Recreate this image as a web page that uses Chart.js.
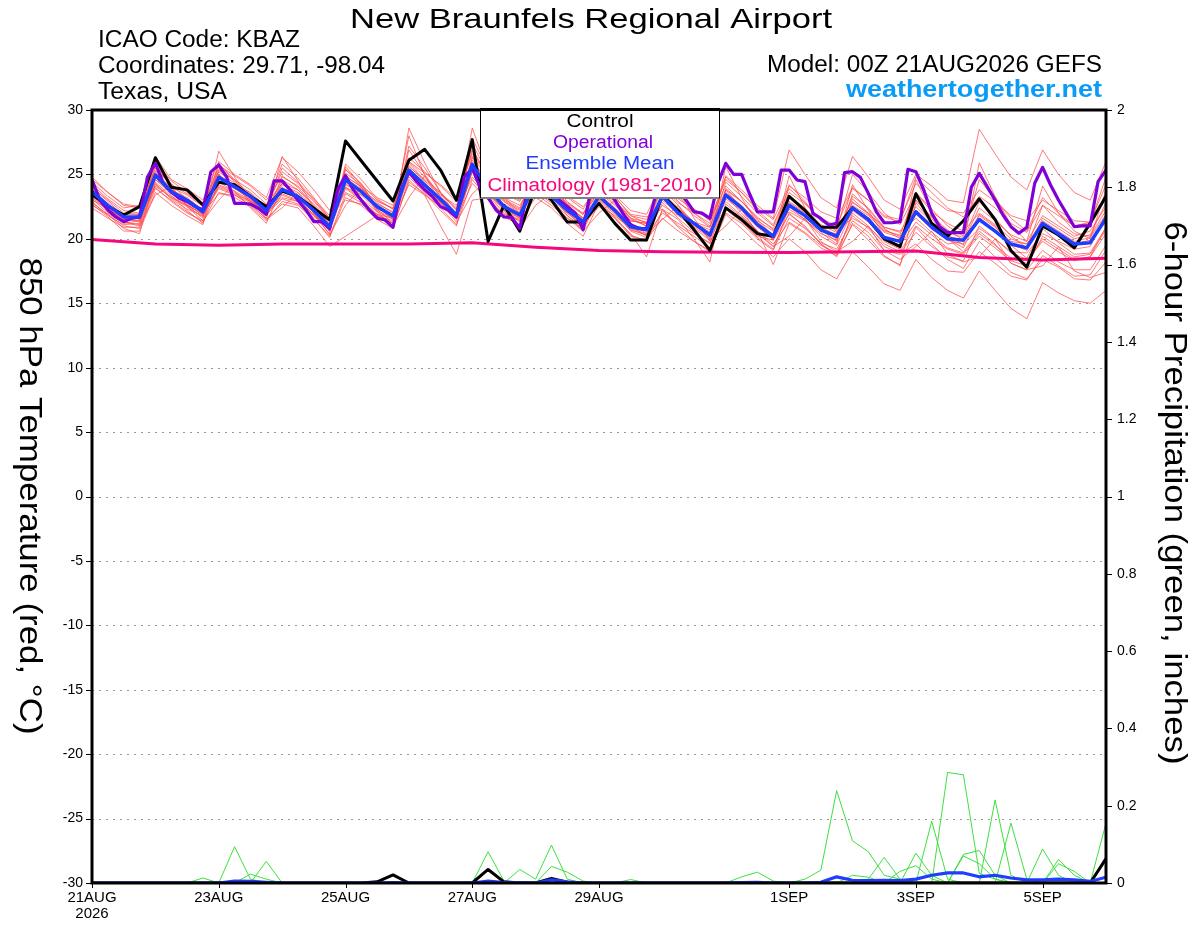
<!DOCTYPE html>
<html><head><meta charset="utf-8">
<script src="https://cdn.jsdelivr.net/npm/chart.js@4.4.1/dist/chart.umd.min.js"></script>
<style>html,body{margin:0;padding:0;background:#fff;}#wrap{width:1200px;height:927px;}</style>
</head><body><div id="wrap"><canvas id="c" width="1200" height="927"></canvas></div>
<script>
// ---------- tick labels ----------
const xTickHours = [0, 48, 96, 144, 192, 264, 312, 360];
const xTickLabels = [["21AUG", "2026"], "23AUG", "25AUG", "27AUG", "29AUG", "1SEP", "3SEP", "5SEP"];
const tempTicks = [-30,-25,-20,-15,-10,-5,0,5,10,15,20,25,30];
const precipTicks = [0,0.2,0.4,0.6,0.8,1,1.2,1.4,1.6,1.8,2];

// ---------- 850 hPa temperature (6-hourly, C) ----------
const controlTemp = [23.45,22.55,21.85,22.5, 26.3,24.0,23.8,22.63, 24.4,24.2,23.3,22.5, 23.7,23.27,22.37,21.46, 27.6,26.04,24.49,22.94, 26.1,26.95,25.34,23.0, 27.7,19.8,22.6,20.6, 24.0,23.0,21.3,21.3, 22.75,21.2,19.9,19.9, 23.4,22.2,20.7,19.1, 22.4,21.5,20.4,20.2, 23.3,22.2,20.9,20.9, 22.4,21.5,20.0,19.4, 23.5,21.2,20.2,21.4, 23.1,21.5,19.1,17.8, 21.0,20.3,19.3,21.2, 23.3];
const meanTemp = [23.66,22.6,21.7,21.7, 24.95,23.66,23.0,22.1, 24.77,24.05,23.3,22.2, 23.84,23.27,22.2,20.94, 24.57,23.66,22.5,21.77, 25.34,24.18,23.07,21.85, 25.78,23.9,22.5,21.85, 24.3,23.3,22.24,21.33, 23.3,22.2,20.94,20.7, 23.3,22.0,21.2,20.3, 23.4,22.4,21.1,20.2, 22.6,21.8,20.7,20.2, 22.4,21.5,20.1,19.8, 22.1,20.9,20.0,19.9, 21.5,20.6,19.6,19.3, 21.2,20.4,19.6,19.7, 21.6];
// operational run, 3-hourly
const operationalTemp = [24.57,23.0,22.24,21.7,21.33,21.6,21.7,24.8, 25.86,24.3,23.66,23.14,22.9,22.5,22.24,25.2, 25.73,24.8,22.76,22.76,22.7,22.37,21.9,24.5, 24.5,23.8,23.0,22.24,21.33,21.33,20.8,23.8, 24.9,23.8,23.0,22.24,21.6,21.46,20.9,23.8, 25.2,24.44,23.8,23.27,22.5,22.24,21.7,24.8, 25.47,24.0,23.2,22.24,21.7,21.66,20.8,23.8, 24.8,24.2,23.6,23.0,22.5,22.0,20.7,23.9, 24.8,24.0,23.0,22.0,21.1,20.8,20.8,23.0, 24.9,24.3,23.7,23.0,22.1,22.0,21.6,24.3, 25.86,25.0,25.0,23.5,22.1,22.1,22.1,25.34, 25.34,24.57,24.44,21.98,21.59,21.07,21.2,25.14, 25.21,24.77,23.53,22.11,21.25,21.25,21.33,25.4, 25.21,23.79,21.98,20.94,20.5,20.48,20.48,24.0, 25.08,24.05,23.01,21.85,20.94,20.43,20.89,24.31, 25.55,24.18,23.01,21.98,20.94,21.0,21.0,24.44, 25.34];
// climatology 1981-2010, daily
const climatologyTemp = [19.95,19.6,19.5,19.6,19.6,19.6,19.7,19.35,19.1,19.0,18.95,18.93,19.0,19.05,18.56,18.36,18.5];

// ensemble members (6-hourly)
const member01 = [24.2,23.1,22.2,22.0, 25.5,24.2,23.5,22.6, 25.3,24.6,23.8,22.7, 24.3,23.8,22.7,21.4, 25.1,24.2,23.0,22.3, 26.3,25.2,24.1,22.9, 26.8,24.9,23.5,22.9, 25.3,24.3,23.2,22.3, 24.3,23.2,21.9,21.7, 22.3,21.0,20.2,19.3, 22.4,21.4,20.1,19.2, 21.6,20.8,19.7,19.2, 21.4,20.5,19.1,18.8, 19.6,18.4,17.5,17.4, 19.0,18.1,17.1,16.8, 18.7,17.9,17.1,17.2, 19.1];
const member02 = [22.8,21.9,21.0,20.8, 23.9,23.0,22.1,21.3, 23.6,23.2,22.5,21.4, 22.9,22.6,21.5,20.2, 23.5,22.8,21.7,21.0, 24.4,23.5,22.2,21.0, 24.6,23.1,21.7,21.1, 23.5,22.6,21.6,20.8, 23.8,22.9,21.8,21.5, 24.2,23.1,22.3,21.5, 24.6,23.6,22.4,21.5, 24.1,23.2,22.1,21.6, 24.0,23.0,21.8,21.5, 24.3,23.1,22.2,22.0, 23.8,22.9,21.8,21.4, 23.0,22.2,21.4,21.3, 23.4];
const member03 = [23.9,22.5,21.3,21.1, 25.8,24.0,22.6,21.6, 26.8,24.8,23.1,21.8, 26.4,24.5,22.4,20.6, 25.4,24.3,22.3,21.2, 28.6,25.9,23.6,21.8, 28.6,25.2,22.4,21.3, 26.5,24.2,22.1,20.8, 25.6,23.1,21.0,20.2, 26.9,23.8,21.6,19.8, 25.6,23.2,21.2,19.9, 24.9,22.4,20.5,19.6, 24.2,22.2,20.2,19.4, 24.6,22.1,20.3,19.5, 25.9,23.3,21.1,19.8, 24.1,22.0,20.6,20.0, 23.8];
const member04 = [23.0,22.4,21.3,21.0, 23.4,24.1,22.5,21.4, 23.0,24.3,22.8,21.5, 22.4,23.6,22.0,20.3, 22.6,24.0,22.1,21.0, 23.2,24.9,22.8,21.3, 23.5,24.6,22.2,20.8, 22.6,23.6,21.8,20.6, 22.0,23.0,21.2,20.4, 21.5,22.6,20.8,19.9, 21.0,22.3,20.4,19.4, 20.2,21.6,19.8,19.0, 19.8,21.0,19.1,18.4, 19.4,20.6,18.8,18.2, 18.6,20.0,18.1,17.6, 17.9,19.4,17.5,17.0, 17.4];
const member05 = [22.4,21.6,20.9,20.9, 24.3,23.1,22.3,21.8, 24.1,23.6,22.9,21.9, 23.1,22.7,21.8,20.7, 24.0,23.1,22.1,21.5, 25.9,24.5,23.4,22.6, 25.9,24.1,22.9,22.0, 24.0,23.0,22.0,21.1, 22.5,21.6,20.4,18.6, 22.3,21.5,20.0,18.2, 23.9,22.9,21.6,20.8, 23.2,22.4,21.1,20.5, 23.1,22.0,20.7,20.2, 21.9,20.8,19.9,19.6, 20.8,20.0,19.0,18.9, 20.4,19.8,19.2,19.4, 21.9];
const member06 = [24.6,23.6,22.6,22.4, 25.1,24.0,23.4,22.5, 25.7,24.9,24.1,23.0, 24.8,24.1,22.9,21.5, 24.0,23.4,22.7,22.1, 25.0,24.0,22.9,21.8, 26.4,24.7,23.2,22.6, 24.7,23.8,22.8,22.0, 23.6,22.6,21.4,21.2, 23.0,21.9,21.0,20.3, 23.8,22.9,21.7,20.7, 22.1,21.4,20.6,20.4, 22.8,22.0,20.9,20.5, 21.6,20.5,19.6,19.8, 22.4,21.4,20.3,19.8, 21.8,21.0,20.2,20.6, 22.5];
const member07 = [23.3,22.3,21.5,21.4, 24.6,23.5,22.7,21.8, 24.2,23.7,23.0,21.9, 23.5,23.0,21.9,20.8, 24.9,24.0,22.8,22.0, 25.0,23.9,22.8,21.5, 25.2,23.5,22.2,21.6, 23.9,22.9,21.8,20.9, 22.9,21.7,20.3,19.8, 22.2,20.9,19.8,19.0, 21.9,20.8,19.6,18.6, 20.0,19.0,17.6,16.9, 19.0,17.8,16.5,16.0, 18.4,17.0,16.0,15.4, 17.5,16.0,14.6,13.8, 16.6,15.8,15.2,15.0, 16.0];
const member08 = [23.5,22.4,21.5,21.6, 24.8,23.6,23.0,22.3, 24.5,23.9,23.1,22.0, 24.2,23.6,22.4,21.2, 24.3,23.4,22.2,21.6, 26.0,24.8,23.5,22.3, 26.1,24.3,22.9,22.2, 24.6,23.6,22.5,21.6, 23.8,22.7,21.4,21.2, 24.0,22.8,22.0,21.2, 24.9,23.8,22.6,21.6, 26.9,25.0,23.2,22.4, 26.4,24.8,23.0,22.3, 25.0,24.1,23.0,22.8, 28.5,26.6,24.8,23.8, 26.9,25.0,23.6,23.0, 26.0];
const member09 = [22.9,21.8,21.1,21.2, 24.0,22.9,22.0,21.4, 25.0,24.0,23.0,21.6, 22.7,22.4,21.0,19.4, 20.2,21.0,21.8,21.4, 24.8,23.6,22.4,21.1, 25.3,23.4,22.0,21.4, 23.2,22.4,21.2,20.2, 22.8,21.6,20.2,19.9, 21.6,20.6,19.8,19.1, 22.7,21.7,20.6,19.6, 21.3,20.5,19.5,18.9, 21.8,20.8,19.4,18.9, 20.5,19.4,18.6,18.3, 21.0,20.0,18.9,18.4, 19.8,19.0,18.3,18.6, 20.4];
const member10 = [24.0,22.9,21.8,21.5, 26.0,24.5,23.6,22.6, 24.9,24.2,23.6,22.5, 25.8,24.7,23.2,21.6, 24.4,23.8,22.9,22.4, 25.6,24.6,23.6,22.4, 27.0,24.8,23.0,22.3, 25.0,23.9,22.7,21.9, 24.6,23.4,22.2,21.9, 24.4,22.9,21.8,20.9, 23.5,22.5,21.4,20.6, 22.8,22.0,20.9,20.3, 22.6,21.8,20.6,20.3, 23.6,22.1,21.2,20.6, 22.0,21.1,20.0,19.6, 21.4,20.6,19.8,20.1, 21.9];
const member11 = [23.6,22.5,21.9,21.9, 24.9,23.8,23.2,22.2, 25.2,24.3,23.4,22.3, 23.7,23.1,22.3,21.0, 24.7,23.9,22.6,21.7, 25.7,24.4,23.0,21.6, 25.3,23.6,22.3,21.7, 24.2,23.4,22.3,21.4, 23.1,22.0,20.7,20.3, 23.6,22.4,21.3,20.5, 22.9,21.8,20.6,18.0, 21.2,20.4,19.3,18.7, 22.0,21.0,19.6,19.0, 21.0,20.0,19.2,18.8, 20.2,19.3,18.3,17.9, 20.2,19.4,18.6,18.8, 20.7];
const member12 = [23.1,22.0,21.2,21.4, 24.4,23.3,22.6,21.9, 23.9,23.4,22.8,21.8, 23.4,22.9,21.6,20.1, 23.2,22.6,21.5,20.8, 24.6,23.4,21.0,18.8, 23.0,23.2,21.8,21.0, 23.6,22.8,21.6,20.6, 23.4,22.3,21.0,20.6, 23.2,22.1,21.2,20.7, 23.1,22.2,20.9,20.0, 22.3,21.5,20.4,19.9, 22.9,21.9,20.5,20.1, 22.5,21.3,20.5,20.1, 21.5,20.6,19.6,19.1, 21.6,20.8,20.0,20.3, 22.8];
const member13 = [24.4,23.3,22.4,22.6, 25.3,24.3,23.0,21.9, 25.9,24.4,23.2,22.2, 24.6,23.8,22.5,21.1, 25.4,24.0,22.5,21.8, 28.0,24.9,23.2,21.9, 26.3,24.1,22.5,21.8, 24.9,23.7,22.4,21.3, 23.3,22.1,20.6,20.1, 22.8,21.6,20.5,19.6, 23.3,22.0,20.6,19.4, 22.0,20.9,19.6,18.8, 21.1,19.9,18.6,18.0, 20.9,19.6,18.4,17.7, 19.8,18.6,17.4,16.9, 18.4,17.8,16.9,16.8, 18.2];
const member14 = [22.6,21.9,20.8,20.4, 24.8,23.4,22.2,21.2, 24.4,23.7,22.4,21.2, 24.0,23.1,21.8,20.4, 25.6,24.2,22.5,21.5, 27.2,25.5,23.6,22.2, 27.8,25.3,23.2,22.0, 25.6,24.2,22.7,21.4, 24.9,23.3,21.8,21.2, 24.9,23.4,22.3,21.4, 24.1,22.9,21.5,20.2, 23.3,22.1,20.7,19.8, 23.5,22.3,20.8,20.0, 23.0,21.7,20.7,19.9, 22.9,21.6,20.2,19.3, 22.6,21.3,20.4,20.2, 22.2];
const member15 = [23.8,22.7,21.6,21.3, 24.2,23.2,22.5,21.7, 25.4,24.5,23.5,22.4, 25.2,24.3,23.0,21.6, 23.6,23.0,21.9,21.2, 25.2,24.1,23.0,21.9, 25.6,23.8,22.5,21.9, 24.4,23.3,22.0,21.0, 23.0,21.9,20.7,20.3, 22.0,21.2,20.4,19.7, 22.0,21.2,20.0,19.1, 22.5,21.5,20.2,19.5, 22.2,21.3,20.0,19.5, 21.3,20.3,19.3,18.9, 20.4,19.5,18.5,18.1, 20.0,19.2,18.4,18.6, 20.9];
const member16 = [24.8,23.6,22.7,22.5, 26.4,24.6,23.9,23.0, 26.0,25.0,24.2,23.2, 26.3,25.2,23.8,22.2, 24.8,24.1,23.2,22.6, 26.0,25.1,24.2,23.1, 26.6,24.9,23.6,23.0, 25.8,24.6,23.3,22.5, 24.0,22.9,21.6,21.3, 23.3,22.2,21.1,20.4, 24.4,23.3,22.0,21.0, 23.6,22.7,21.6,21.0, 23.9,23.0,21.7,21.3, 24.8,23.6,22.4,21.7, 23.3,22.4,21.2,20.5, 22.6,21.8,21.0,21.3, 24.2];
const member17 = [23.2,22.2,21.4,21.6, 25.2,23.9,22.9,22.0, 23.5,23.4,22.6,21.6, 24.9,24.0,22.6,21.0, 23.9,23.0,21.8,21.2, 26.9,25.0,23.3,22.0, 24.8,23.5,22.4,21.6, 25.9,24.2,22.9,21.9, 24.2,22.9,21.5,21.0, 23.9,22.6,21.2,20.0, 22.3,21.3,20.2,19.9, 24.2,22.9,21.4,20.6, 21.6,20.9,19.8,19.2, 23.0,21.6,20.0,19.3, 21.9,21.0,19.5,18.5, 20.8,19.7,18.8,18.9, 20.9];
const member18 = [24.0,23.0,22.0,21.9, 24.6,23.8,23.1,22.3, 24.9,24.1,23.3,22.1, 23.2,22.9,21.9,20.6, 24.2,23.6,22.3,21.9, 25.3,24.2,22.8,21.7, 25.9,24.0,22.7,22.0, 24.4,23.3,22.1,21.2, 23.5,22.4,21.1,20.8, 22.6,21.8,20.9,20.1, 23.6,22.6,21.3,20.3, 22.9,22.1,20.8,20.0, 23.3,22.4,20.9,20.6, 22.2,21.1,20.2,19.9, 21.8,20.9,19.8,19.6, 21.1,20.4,19.6,19.9, 21.3];
const member19 = [22.7,21.7,20.6,20.6, 23.6,22.6,21.8,21.1, 25.8,24.6,23.2,21.9, 24.4,23.4,22.0,20.6, 25.8,24.6,23.1,22.3, 25.2,24.2,22.9,21.9, 27.4,25.0,23.1,22.4, 25.2,24.0,22.6,21.6, 24.2,23.0,21.6,21.0, 24.6,23.3,22.0,21.0, 23.8,22.4,21.0,19.9, 21.9,21.0,19.6,18.6, 21.2,20.2,18.7,17.9, 22.8,21.3,20.0,19.0, 20.6,19.6,18.1,17.6, 19.1,18.2,17.6,17.6, 19.5];
const member20 = [23.4,22.3,21.6,21.8, 24.1,23.2,22.6,22.0, 24.0,23.5,22.9,22.2, 25.5,24.4,23.1,21.8, 23.0,22.7,21.9,21.6, 24.2,23.4,22.5,21.6, 24.3,23.0,21.9,21.5, 25.2,23.9,22.6,21.6, 22.6,21.8,20.8,20.4, 23.2,22.3,21.3,20.9, 24.8,23.6,22.2,21.1, 23.9,22.8,21.4,20.7, 25.0,23.6,22.0,21.1, 23.6,22.3,21.0,20.2, 24.6,23.1,21.6,20.6, 23.2,22.0,21.0,21.2, 24.8];
const memberTemps = [member01,member02,member03,member04,member05,member06,member07,member08,member09,member10,member11,member12,member13,member14,member15,member16,member17,member18,member19,member20];

// ---------- 6-hour precipitation (inches) ----------
const controlPrecip = [0,0,0,0,0,0,0,0, 0,0,0,0,0,0,0,0, 0,0,0.003,0.021,0,0,0,0, 0,0.035,0.003,0,0,0.012,0.002,0, 0,0,0,0,0,0,0,0, 0,0,0,0,0,0,0,0, 0,0,0,0,0,0,0,0, 0,0,0,0,0,0,0,0, 0.063];
const meanPrecip = [0,0,0,0,0,0,0,0, 0,0.005,0.004,0.002,0,0,0,0, 0,0,0,0.001,0,0,0,0, 0,0.005,0.001,0.001,0,0.008,0.003,0, 0,0,0,0,0,0,0,0, 0,0.001,0.002,0,0,0,0.002,0.016, 0.007,0.006,0.007,0.006,0.01,0.02,0.026,0.026, 0.016,0.02,0.013,0.008,0.008,0.01,0.008,0.004, 0.015];
const precipMember1 = [0,0,0,0,0,0,0,0, 0,0.094,0.01,0,0,0,0,0, 0,0,0,0,0,0,0,0, 0,0,0,0,0,0,0,0, 0,0,0,0,0,0,0,0, 0,0,0,0,0,0.01,0.033,0.239, 0.109,0.081,0.02,0.01,0,0,0,0, 0,0,0,0,0,0,0,0, 0];
const precipMember2 = [0,0,0,0,0,0,0,0.013, 0,0,0.023,0.01,0,0,0,0, 0,0,0,0,0,0,0,0, 0,0.081,0.005,0,0,0,0,0, 0,0,0,0,0,0,0,0, 0,0,0,0,0,0,0,0, 0,0,0,0,0.077,0.02,0,0, 0,0,0,0,0,0,0,0, 0];
const precipMember3 = [0,0,0,0,0,0,0,0, 0,0,0,0.056,0,0,0,0, 0,0,0,0,0,0,0,0, 0,0,0,0.035,0.01,0.098,0.01,0, 0,0,0,0,0,0,0,0, 0,0,0,0,0,0,0,0, 0,0,0,0,0,0,0,0.074, 0.084,0.02,0,0,0,0,0,0, 0];
const precipMember4 = [0,0,0,0,0,0,0,0, 0,0,0,0,0,0,0,0, 0,0,0,0,0,0,0,0, 0,0,0,0,0,0.043,0.028,0.005, 0,0,0,0,0,0,0,0, 0,0,0,0,0,0,0,0, 0,0,0,0,0,0.16,0.01,0, 0,0,0,0,0,0.061,0.02,0, 0];
const precipMember5 = [0,0,0,0,0,0,0,0, 0,0,0,0,0,0,0,0, 0,0,0,0,0,0,0,0, 0,0,0,0,0,0,0,0, 0,0,0.009,0,0,0,0,0, 0,0,0,0,0,0,0,0, 0,0,0,0,0,0,0.286,0.28, 0.025,0.01,0,0,0,0,0,0, 0];
const precipMember6 = [0,0,0,0,0,0,0,0, 0,0,0,0,0,0,0,0, 0,0,0,0,0,0,0,0, 0,0,0,0,0,0,0,0, 0,0,0,0,0,0,0,0, 0,0.016,0.028,0.005,0,0,0,0, 0,0,0,0,0,0,0,0, 0,0.215,0.02,0,0.088,0.02,0,0, 0];
const precipMember7 = [0,0,0,0,0,0,0,0, 0,0,0,0,0,0,0,0, 0,0,0,0,0,0,0,0, 0,0,0,0,0,0,0,0, 0,0,0,0,0,0,0,0, 0,0,0,0,0,0,0,0, 0,0.01,0.066,0.01,0,0,0,0, 0,0,0.155,0.01,0,0,0,0, 0.155];
const precipMember8 = [0,0,0,0,0,0,0,0, 0,0,0,0,0,0,0,0, 0,0,0,0,0,0,0,0, 0,0,0,0,0,0,0,0, 0,0,0,0,0,0,0,0, 0,0,0,0,0,0,0,0, 0.02,0.015,0,0.03,0.045,0.01,0,0.07, 0.05,0.01,0,0,0,0.05,0.03,0, 0];
const memberPrecips = [precipMember1,precipMember2,precipMember3,precipMember4,precipMember5,precipMember6,precipMember7,precipMember8];

// ---------- build datasets ----------
const FONT = '"Liberation Sans", Arial, Helvetica, sans-serif';
const pts = (arr, step) => arr.map((v, i) => ({x: i * step, y: v}));
const base = {pointRadius: 0, tension: 0, fill: false, borderJoinStyle: 'round'};
const datasets = [];
datasets.push({...base, label:'meanPrecip', data: pts(meanPrecip, 6), yAxisID:'y2', borderColor:'#1f3dff', borderWidth:3.2, order:1});
datasets.push({...base, label:'controlPrecip', data: pts(controlPrecip, 6), yAxisID:'y2', borderColor:'#000', borderWidth:3, order:2});
datasets.push({...base, label:'Ensemble Mean', data: pts(meanTemp, 6), yAxisID:'y', borderColor:'#1f3dff', borderWidth:3.5, order:3});
datasets.push({...base, label:'Operational', data: pts(operationalTemp, 3), yAxisID:'y', borderColor:'#8000d8', borderWidth:3.2, order:4});
datasets.push({...base, label:'Control', data: pts(controlTemp, 6), yAxisID:'y', borderColor:'#000', borderWidth:3, order:5});
datasets.push({...base, label:'Climatology', data: pts(climatologyTemp, 24), yAxisID:'y', borderColor:'#f5087e', borderWidth:3, order:6});
memberTemps.forEach((m, k) => datasets.push({...base, label:'m'+k, data: pts(m, 6), yAxisID:'y', borderColor:'rgba(255,70,70,0.8)', borderWidth:0.9, order:10+k}));
memberPrecips.forEach((m, k) => datasets.push({...base, label:'p'+k, data: pts(m, 6), yAxisID:'y2', borderColor:'#3ee03e', borderWidth:1, order:40+k}));

// draws text stretched horizontally to the given width
function fitText(ctx, text, x, y, width, size, weight, color, align) {
  ctx.save();
  ctx.font = weight + ' ' + size + 'px ' + FONT;
  ctx.fillStyle = color;
  ctx.textBaseline = 'alphabetic';
  ctx.textAlign = 'left';
  const w0 = ctx.measureText(text).width;
  const left = align === 'center' ? x - width / 2 : (align === 'right' ? x - width : x);
  ctx.translate(left, y); ctx.scale(width / w0, 1); ctx.fillText(text, 0, 0);
  ctx.restore();
}

const decor = {
  id: 'decor',
  beforeDraw(chart) {
    const c = chart.ctx;
    c.save(); c.fillStyle = '#fff'; c.fillRect(0, 0, chart.width, chart.height); c.restore();
  },
  beforeDatasetsDraw(chart) {
    const c = chart.ctx, a = chart.chartArea, y = chart.scales.y;
    c.save();
    c.strokeStyle = '#9a9a9a'; c.lineWidth = 1; c.setLineDash([2, 5]);
    tempTicks.forEach(v => {
      if (v === -30 || v === 30) return;
      const py = Math.round(y.getPixelForValue(v)) + 0.5;
      c.beginPath(); c.moveTo(a.left, py); c.lineTo(a.right, py); c.stroke();
    });
    c.restore();
  },
  afterDatasetsDraw(chart) {
    const c = chart.ctx, a = chart.chartArea, y = chart.scales.y, y2 = chart.scales.y2, x = chart.scales.x;
    c.save();
    c.strokeStyle = '#000'; c.lineWidth = 1;
    tempTicks.forEach(v => { const py = Math.round(y.getPixelForValue(v)) + 0.5; c.beginPath(); c.moveTo(a.left - 6, py); c.lineTo(a.left, py); c.stroke(); });
    precipTicks.forEach(v => { const py = Math.round(y2.getPixelForValue(v)) + 0.5; c.beginPath(); c.moveTo(a.right, py); c.lineTo(a.right + 6, py); c.stroke(); });
    xTickHours.forEach(v => { const px = Math.round(x.getPixelForValue(v)) + 0.5; c.beginPath(); c.moveTo(px, a.bottom); c.lineTo(px, a.bottom + 5); c.stroke(); });
    c.lineWidth = 3; c.strokeStyle = '#000';
    c.strokeRect(a.left, a.top, a.right - a.left, a.bottom - a.top);
    // legend box
    c.fillStyle = '#fff'; c.fillRect(480, a.top + 1, 239, 88);
    c.lineWidth = 1; c.strokeRect(480.5, a.top - 1.5, 239, 89.5);
    c.restore();
    fitText(c, 'Control', 600, 127, 67, 18, 'normal', '#000', 'center');
    fitText(c, 'Operational', 603, 148, 100, 18, 'normal', '#8000d8', 'center');
    fitText(c, 'Ensemble Mean', 600, 169, 149, 18, 'normal', '#1f3dff', 'center');
    fitText(c, 'Climatology (1981-2010)', 600, 191, 225, 18, 'normal', '#f5087e', 'center');
    // header
    fitText(c, 'New Braunfels Regional Airport', 591, 28, 482, 28, 'normal', '#000', 'center');
    fitText(c, 'ICAO Code: KBAZ', 98, 47, 202, 23, 'normal', '#000', 'left');
    fitText(c, 'Coordinates: 29.71, -98.04', 98, 73, 287, 23, 'normal', '#000', 'left');
    fitText(c, 'Texas, USA', 98, 99, 129, 23, 'normal', '#000', 'left');
    fitText(c, 'Model: 00Z 21AUG2026 GEFS', 1102, 72, 335, 23, 'normal', '#000', 'right');
    fitText(c, 'weathertogether.net', 1102, 97, 256, 24, 'bold', '#0a9cf5', 'right');
    // axis titles, reading top to bottom
    c.save(); c.translate(20, 0); c.rotate(Math.PI / 2);
    fitText(c, '850 hPa Temperature (red, \u00B0C)', 496, 0, 477, 31, 'normal', '#000', 'center');
    c.restore();
    c.save(); c.translate(1165, 0); c.rotate(Math.PI / 2);
    fitText(c, '6-hour Precipitation (green, inches)', 493, 0, 543, 31, 'normal', '#000', 'center');
    c.restore();
  }
};

new Chart(document.getElementById('c'), {
  type: 'line',
  data: {datasets},
  options: {
    responsive: false, animation: false, devicePixelRatio: 1, events: [],
    layout: {padding: {top: 110, left: 0, right: 0, bottom: 0}},
    plugins: {legend: {display: false}, tooltip: {enabled: false}, title: {display: false}},
    scales: {
      x: {
        type: 'linear', position: 'bottom', min: 0, max: 384,
        grid: {display: false, drawTicks: false}, border: {display: false},
        afterBuildTicks: s => { s.ticks = xTickHours.map(v => ({value: v})); },
        afterFit: s => { s.height = 44; },
        ticks: {
          autoSkip: false, maxRotation: 0, minRotation: 0, padding: 6, color: '#000',
          font: {family: FONT, size: 15, lineHeight: 1.12},
          callback: v => { const k = xTickHours.indexOf(v); return k >= 0 ? xTickLabels[k] : ''; }
        }
      },
      y: {
        type: 'linear', position: 'left', min: -30, max: 30,
        grid: {display: false, drawTicks: false}, border: {display: false},
        afterBuildTicks: s => { s.ticks = tempTicks.map(v => ({value: v})); },
        afterFit: s => { s.width = 92; },
        ticks: {padding: 9, color: '#000', font: {family: FONT, size: 14}, callback: v => String(v)}
      },
      y2: {
        type: 'linear', position: 'right', min: 0, max: 2,
        grid: {display: false, drawTicks: false}, border: {display: false},
        afterBuildTicks: s => { s.ticks = precipTicks.map(v => ({value: v})); },
        afterFit: s => { s.width = 94; },
        ticks: {padding: 11, color: '#000', font: {family: FONT, size: 14}, callback: v => String(+(+v).toFixed(1))}
      }
    }
  },
  plugins: [decor]
});
</script>
</body></html>
